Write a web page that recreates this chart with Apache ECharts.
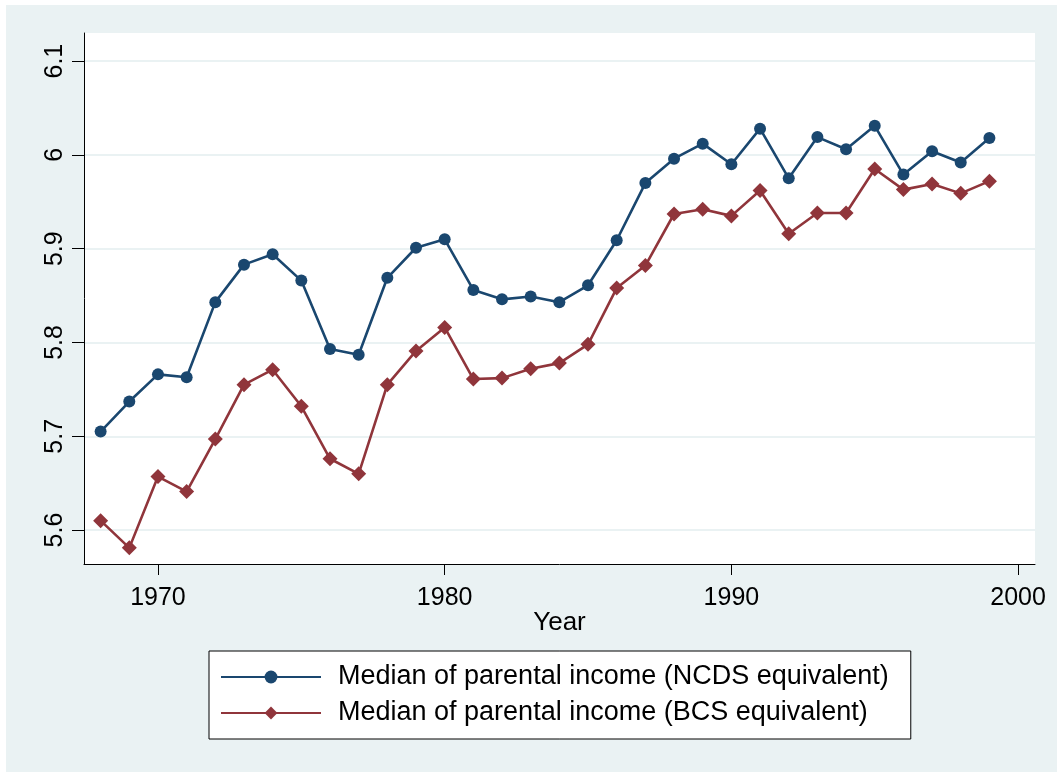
<!DOCTYPE html>
<html>
<head>
<meta charset="utf-8">
<script src="https://cdn.jsdelivr.net/npm/echarts@6/dist/echarts.min.js"></script>
<style>
html,body{margin:0;padding:0;background:#fff;}
#chart{width:1057px;height:772px;}
</style>
</head>
<body>
<div id="chart"></div>
<script>
var years = [1968,1969,1970,1971,1972,1973,1974,1975,1976,1977,1978,1979,1980,1981,1982,1983,1984,1985,1986,1987,1988,1989,1990,1991,1992,1993,1994,1995,1996,1997,1998,1999];
var ncds = [5.705,5.737,5.766,5.763,5.843,5.883,5.894,5.866,5.793,5.787,5.869,5.901,5.910,5.856,5.846,5.849,5.843,5.861,5.909,5.970,5.996,6.012,5.990,6.028,5.975,6.019,6.006,6.031,5.979,6.004,5.992,6.018];
var bcs = [5.610,5.581,5.657,5.641,5.697,5.755,5.771,5.732,5.676,5.660,5.755,5.791,5.816,5.761,5.762,5.772,5.778,5.798,5.858,5.882,5.937,5.942,5.935,5.962,5.916,5.938,5.938,5.985,5.963,5.969,5.959,5.972];
var xTicks = [1970,1980,1990,2000];
var yTicks = [5.6,5.7,5.8,5.9,6,6.1];
var seriesNames = ['Median of parental income (NCDS equivalent)','Median of parental income (BCS equivalent)'];

var chart = echarts.init(document.getElementById('chart'), null, {renderer:'canvas'});
var font = 'Liberation Sans, Arial, sans-serif';
function pairs(v){ return years.map(function(y,i){ return [y, v[i]]; }); }
chart.setOption({
  backgroundColor:'#ffffff',
  animation:false,
  graphic:[{type:'rect', z:-10, shape:{x:6,y:5,width:1051,height:767}, style:{fill:'#eaf2f3'}},
           {type:'rect', z:-9, shape:{x:84,y:33,width:951,height:531}, style:{fill:'#ffffff'}}],
  grid:{left:84, top:33, width:951, height:531, containLabel:false},
  xAxis:{
    type:'value', min:1967.42, max:2000.59,
    axisLine:{show:true, onZero:false, lineStyle:{color:'#000', width:1}},
    axisTick:{show:true, length:11, lineStyle:{color:'#000'}, customValues:xTicks},
    axisLabel:{fontFamily:font, fontSize:25, color:'#000', margin:22, customValues:xTicks, formatter:function(v){return String(v);}},
    splitLine:{show:false},
    name:'Year', nameLocation:'middle', nameGap:46, nameMoveOverlap:false,
    nameTextStyle:{fontFamily:font, fontSize:26, color:'#000'}
  },
  yAxis:{
    type:'value', min:5.5638, max:6.130,
    axisLine:{show:true, onZero:false, lineStyle:{color:'#000', width:1}},
    axisTick:{show:true, length:12, lineStyle:{color:'#000'}, customValues:yTicks},
    axisLabel:{fontFamily:font, fontSize:25, color:'#000', rotate:90, margin:16, customValues:yTicks,
      formatter:function(v){ return String(Math.round(v*10)/10); }},
    splitLine:{show:true, lineStyle:{color:'#eaf2f3', width:2}, customValues:yTicks}
  },
  legend:{
    orient:'vertical', left:209, top:651,
    backgroundColor:'#fff', borderColor:'#000', borderWidth:1, borderRadius:0,
    padding:[11,22,11,11],
    itemWidth:100, itemHeight:16, itemGap:6,
    textStyle:{fontFamily:font, fontSize:27, color:'#000', lineHeight:30, padding:[0,0,0,12]},
    data:seriesNames
  },
  series:[
    {name:seriesNames[0], type:'line', data:pairs(ncds), symbol:'circle', symbolSize:12,
     itemStyle:{color:'#1a476f'}, lineStyle:{color:'#1a476f', width:2.6}},
    {name:seriesNames[1], type:'line', data:pairs(bcs), symbol:'diamond', symbolSize:15,
     itemStyle:{color:'#90353b'}, lineStyle:{color:'#90353b', width:2.6}}
  ]
});
</script>
</body>
</html>
